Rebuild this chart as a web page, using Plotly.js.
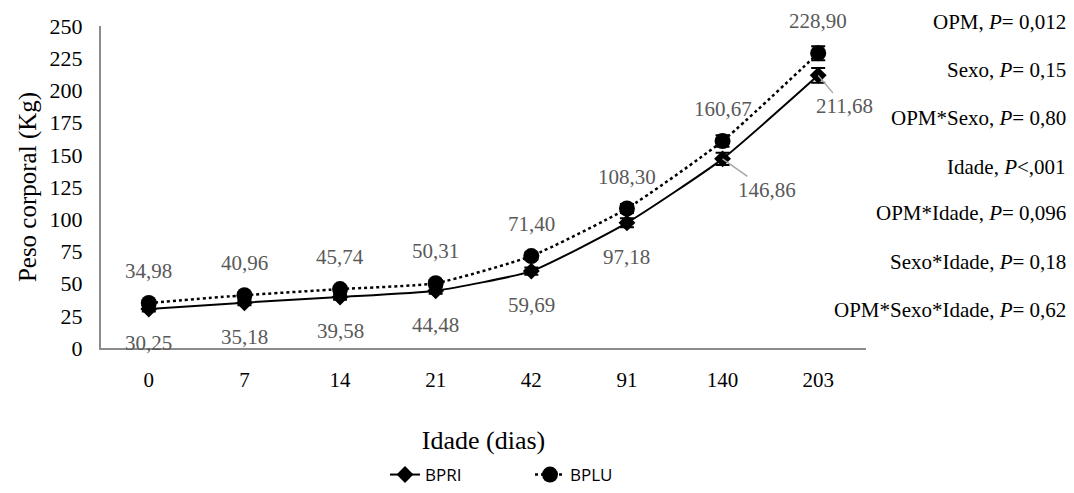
<!DOCTYPE html>
<html>
<head>
<meta charset="utf-8">
<script src="https://cdn.plot.ly/plotly-3.0.1.min.js"></script>
<style>html,body{margin:0;padding:0;background:#fff;}#chart{width:1074px;height:493px;}</style>
</head>
<body>
<div id="chart"></div>
<script>
var categories = ["0", "7", "14", "21", "42", "91", "140", "203"];
var bpri = [30.25, 35.18, 39.58, 44.48, 59.69, 97.18, 146.86, 211.68];
var bplu = [34.98, 40.96, 45.74, 50.31, 71.40, 108.30, 160.67, 228.90];
var bpriErr = [2.0, 2.0, 2.2, 2.4, 2.8, 3.5, 4.7, 5.8];
var bpluErr = [2.0, 2.0, 2.2, 2.4, 2.8, 3.5, 4.5, 5.4];
var bpriLabels = ["30,25", "35,18", "39,58", "44,48", "59,69", "97,18", "146,86", "211,68"];
var bpluLabels = ["34,98", "40,96", "45,74", "50,31", "71,40", "108,30", "160,67", "228,90"];
var statsText = ["OPM, <i>P</i>= 0,012", "Sexo, <i>P</i>= 0,15", "OPM*Sexo, <i>P</i>= 0,80", "Idade, <i>P</i><,001", "OPM*Idade, <i>P</i>= 0,096", "Sexo*Idade, <i>P</i>= 0,18", "OPM*Sexo*Idade, <i>P</i>= 0,62"];

var serif = "Liberation Serif, Times New Roman, serif";

var traces = [
  {
    x: categories, y: bpri, name: "BPRI", type: "scatter", mode: "lines+markers",
    line: {color: "#000", width: 2, shape: "spline", smoothing: 0.5},
    marker: {symbol: "diamond", size: 13, color: "#000"},
    error_y: {type: "data", array: bpriErr, visible: true, color: "#000", thickness: 2, width: 7}
  },
  {
    x: categories, y: bplu, name: "BPLU", type: "scatter", mode: "lines+markers",
    line: {color: "#000", width: 2.5, dash: "dot", shape: "spline", smoothing: 0.5},
    marker: {symbol: "circle", size: 16, color: "#000"},
    error_y: {type: "data", array: bpluErr, visible: true, color: "#000", thickness: 2, width: 7}
  }
];

var annotations = [];
var labelFont = {family: serif, size: 21, color: "#595959"};
for (var i = 0; i < categories.length; i++) {
  annotations.push({x: i, y: bplu[i], xref: "x", yref: "y", text: bpluLabels[i],
    showarrow: false, yshift: 32, font: labelFont});
  if (i < 6) {
    annotations.push({x: i, y: bpri[i], xref: "x", yref: "y", text: bpriLabels[i],
      showarrow: false, yshift: -34, font: labelFont});
  }
}
annotations.push({x: 6, y: bpri[6], xref: "x", yref: "y", text: bpriLabels[6],
  showarrow: true, arrowhead: 0, arrowcolor: "#a6a6a6", arrowwidth: 1.5, ax: 44, ay: 31, font: labelFont, standoff: 0});
annotations.push({x: 7, y: bpri[7], xref: "x", yref: "y", text: bpriLabels[7],
  showarrow: true, arrowhead: 0, arrowcolor: "#a6a6a6", arrowwidth: 1.5, ax: 26, ay: 31, font: labelFont, standoff: 0});

var statY = [22, 70, 118, 167, 213, 262, 310];
for (var j = 0; j < statsText.length; j++) {
  annotations.push({xref: "paper", yref: "paper", x: (1068 - 101) / 765, y: 1 - (statY[j] - 26) / 322,
    xanchor: "right", yanchor: "middle", text: statsText[j], showarrow: false,
    font: {family: serif, size: 21, color: "#000"}});
}

var layout = {
  width: 1074, height: 493,
  margin: {l: 101, r: 208, t: 26, b: 145, autoexpand: false},
  paper_bgcolor: "#fff", plot_bgcolor: "#fff",
  showlegend: true,
  legend: {orientation: "h", x: (385 - 101) / 765, xanchor: "left", y: (348 - 475) / 322, yanchor: "middle",
    entrywidth: 100, entrywidthmode: "pixels", bgcolor: "rgba(0,0,0,0)",
    font: {family: "Open Sans, DejaVu Sans, sans-serif", size: 17, color: "#000"}},
  xaxis: {
    type: "category", range: [-0.5, 7.5], showgrid: false, zeroline: false, automargin: false,
    showline: true, linecolor: "#8c8c8c", linewidth: 2,
    ticks: "outside", ticklen: 12, tickcolor: "rgba(0,0,0,0)",
    tickfont: {family: serif, size: 21, color: "#000"},
    title: {text: "Idade (dias)", font: {family: serif, size: 26, color: "#000"}, standoff: 40}
  },
  yaxis: {
    range: [0, 250], dtick: 25, showgrid: false, zeroline: false, automargin: false,
    showline: true, linecolor: "#8c8c8c", linewidth: 2,
    ticks: "outside", ticklen: 12, tickcolor: "rgba(0,0,0,0)",
    tickfont: {family: serif, size: 22, color: "#000"},
    title: {text: "Peso corporal (Kg)", font: {family: serif, size: 25, color: "#000"}, standoff: 6}
  },
  annotations: annotations
};

Plotly.newPlot("chart", traces, layout, {displayModeBar: false, staticPlot: true});
</script>
</body>
</html>
